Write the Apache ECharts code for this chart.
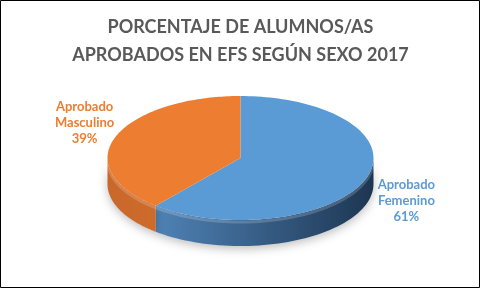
<!DOCTYPE html>
<html><head><meta charset="utf-8">
<script src="https://cdn.jsdelivr.net/npm/echarts@6/dist/echarts.min.js"></script>
<style>html,body{margin:0;padding:0;background:#fff}#c{width:481px;height:289px}</style>
</head><body><div id="c"></div>
<script>
var titleLines = ['PORCENTAJE DE ALUMNOS/AS', 'APROBADOS EN EFS SEGÚN SEXO 2017'];
var categories = ['Aprobado Femenino', 'Aprobado Masculino'];
var labelLines = [['Aprobado', 'Femenino'], ['Aprobado', 'Masculino']];
var values = [61, 39];
var topColors = ['#5B9BD5', '#ED7D31'];
var sideColors = [['#5a93cc', '#1d3652'], ['#c9682a', '#e07a32']];

var chart = echarts.init(document.getElementById('c'), null, {renderer: 'canvas'});
var total = values.reduce(function (a, b) { return a + b; }, 0);

function renderItem(params, api) {
  var idx = params.dataIndex;
  var W = api.getWidth();
  var cx = W / 2, cy = 158, rx = 133, ry = 62, depth = 26;
  var before = 0;
  for (var i = 0; i < idx; i++) before += values[i];
  var a0 = before / total * Math.PI * 2;
  var a1 = (before + api.value(0)) / total * Math.PI * 2;
  function pt(t, dy) { return [cx + rx * Math.sin(t), cy - ry * Math.cos(t) + (dy || 0)]; }
  var children = [];
  var s0 = Math.max(a0, Math.PI / 2), s1 = Math.min(a1, Math.PI * 1.5);
  if (s1 > s0) {
    var pts = [], n = 60, k;
    for (k = 0; k <= n; k++) pts.push(pt(s0 + (s1 - s0) * k / n));
    for (k = n; k >= 0; k--) pts.push(pt(s0 + (s1 - s0) * k / n, depth));
    children.push({
      type: 'polygon', shape: {points: pts},
      style: {
        fill: new echarts.graphic.LinearGradient(cx - rx, 0, cx + rx, 0, [
          {offset: 0, color: sideColors[idx][0]}, {offset: 1, color: sideColors[idx][1]}
        ], true),
        shadowBlur: 10, shadowColor: 'rgba(0,0,0,0.25)', shadowOffsetY: 3
      },
      z2: 1
    });
    var hl = [];
    for (k = 0; k <= n; k++) hl.push(pt(s0 + (s1 - s0) * k / n, 2));
    children.push({type: 'polyline', shape: {points: hl},
      style: {stroke: 'rgba(255,255,255,0.18)', lineWidth: 3, fill: null}, z2: 2});
  }
  var tp = [[cx, cy]], m = 120;
  for (var j = 0; j <= m; j++) tp.push(pt(a0 + (a1 - a0) * j / m));
  children.push({type: 'polygon', shape: {points: tp},
    style: {fill: topColors[idx]}, z2: 3});
  var mid = (a0 + a1) / 2;
  var lx = cx + Math.sin(mid) * (rx + 38) + 5;
  var ly = cy - Math.cos(mid) * ry * 1.85 + 4;
  var pct = Math.round(api.value(0) / total * 100) + '%';
  children.push({type: 'text', x: lx, y: ly, z2: 5,
    style: {text: labelLines[idx].concat([pct]).join('\n'), fill: topColors[idx],
      font: 'bold 13px Lato', align: 'center', verticalAlign: 'middle', lineHeight: 16}});
  return {type: 'group', children: children};
}

chart.setOption({
  animation: false,
  title: {
    text: titleLines.join('\n'), left: 'center', top: 8,
    textStyle: {fontFamily: 'Lato', fontWeight: 'bold', fontSize: 18, color: '#595959', lineHeight: 28}
  },
  graphic: [{type: 'rect', shape: {x: 0.5, y: 0.5, width: 479, height: 287},
    style: {fill: null, stroke: '#000', lineWidth: 1}, z: 100}],
  series: [{
    type: 'custom', coordinateSystem: 'none', renderItem: renderItem,
    data: values.map(function (v, i) { return {name: categories[i], value: [v]}; })
  }]
});
</script></body></html>
